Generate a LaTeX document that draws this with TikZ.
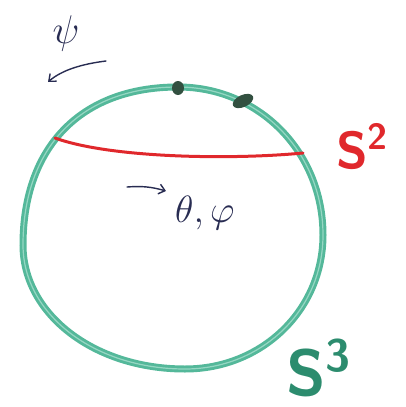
\RequirePackage{fix-cm}
\documentclass[tikz,border=0pt]{standalone}
\usepackage{amsmath,amssymb}
\usepackage{xcolor}
\usepackage{tikz}
\usetikzlibrary{arrows.meta,positioning}
\definecolor{tube}{RGB}{84,184,154}
\definecolor{tubelite}{RGB}{150,215,195}
\definecolor{knot}{RGB}{50,80,64}
\definecolor{chord}{RGB}{224,40,44}
\definecolor{ink}{RGB}{40,44,82}
\definecolor{sthree}{RGB}{44,140,110}
\newcommand{\rim}{(178,87) .. controls (259,87) and (323,152) .. (323,235)
  .. controls (323,310) and (262,369) .. (185,369)
  .. controls (94,369) and (23,314) .. (23,245)
  .. controls (23,148) and (80,87) .. cycle}

\begin{document}
\begin{tikzpicture}[x=1pt,y=-1pt]
\tikzset{lbl/.style={inner sep=0pt,text=ink},
  ptr/.style={-{Straight Barb[length=6pt,width=10pt]},ink,line width=1.4pt,line cap=round}}
\useasboundingbox (0,0) rectangle (405,407);
% the three-sphere as a tube
\draw[tube,line width=7pt] \rim;
\draw[tubelite,line width=1.2pt] \rim;
% equator
\draw[chord,line width=3pt,line cap=round] (55,138) .. controls (110,158) and (230,160) .. (303,153);
% dark marks on the rim
\fill[knot] (178,88) ellipse [x radius=6, y radius=7];
\fill[knot,rotate around={25:(243,101)}] (243,101) ellipse [x radius=11, y radius=6];
% labels
\node[lbl,font=\fontsize{40}{40}\selectfont] (psi) at (66,33) {$\psi$};
\coordinate (psitail) at (106,61);
\coordinate (psitip) at (48,82);
\draw[ptr] (psitail) .. controls (82,64) and (62,70) .. (psitip);
\node[lbl,text=chord,anchor=base west,font=\fontsize{52}{52}\sffamily\bfseries] (stwo) at (336,168) {S\textsuperscript{2}};
\node[lbl,anchor=base west,font=\fontsize{38}{38}\selectfont] (angles) at (175,222) {$\theta,\varphi$};
\coordinate (angtail) at (127,187);
\coordinate (angtip) at (166,191);
\draw[ptr] (angtail) to[bend left=10] (angtip);
\node[lbl,text=sthree,anchor=base west,font=\fontsize{65}{65}\sffamily\bfseries] (sthree) at (286,395) {S\textsuperscript{3}};
\end{tikzpicture}
\end{document}
